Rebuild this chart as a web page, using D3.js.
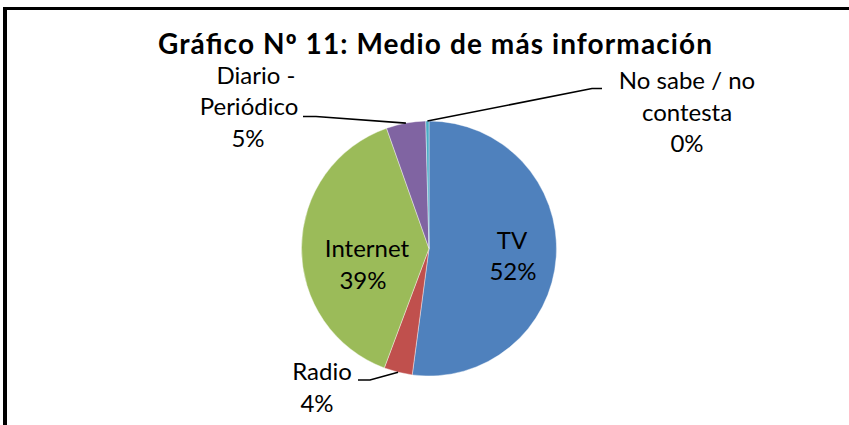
<!DOCTYPE html>
<html>
<head>
<meta charset="utf-8">
<script src="https://cdn.jsdelivr.net/npm/d3@7"></script>
<style>
  html, body { margin: 0; padding: 0; background: #fff; }
  svg text { font-family: Lato, "Open Sans", sans-serif; fill: #000; }
  .title { font-weight: bold; font-size: 28px; }
  .ord { font-family: "Open Sans", sans-serif; }
  .lbl { font-size: 24px; }
  .leader { fill: none; stroke: #000; stroke-width: 1.6; }
</style>
</head>
<body>
<div id="chart"></div>
<script>
'use strict';

// ─── Datos ────────────────────────────────────────────────────────────
const categories = ['TV', 'Radio', 'Internet', 'Diario - Periódico', 'No sabe / no contesta'];
const values     = [52.1, 3.6, 38.9, 5.0, 0.4];
const colors     = ['#4F81BD', '#C0504D', '#9BBB59', '#8064A2', '#4BACC6'];
const labelLines = [['TV'], ['Radio'], ['Internet'], ['Diario -', 'Periódico'], ['No sabe / no', 'contesta']];
const titleParts = ['Gráfico N', 'º', ' 11: Medio de más información'];

// ─── Disposición ──────────────────────────────────────────────────────
const W = 849, H = 425;
const CX = 429, CY = 248.5, R = 127.5;
const LINE_H = 31.5;

// posición de cada etiqueta: x de cada línea, y de la primera línea base
const labelLayout = [
  { xs: [512, 513],           y: 248.5 },
  { xs: [322, 317],           y: 380 },
  { xs: [367, 363],           y: 257 },
  { xs: [256, 249, 248],      y: 83.5 },
  { xs: [687, 687, 687],      y: 89 }
];
// guías (desde el lado de la etiqueta); el último punto sale del arco
const leaderLayout = [
  null,
  [[358, 380], [370, 380]],
  null,
  [[303, 116.5], [316, 116.5]],
  [[602, 88.5], [592, 88.5]]
];

const svg = d3.select('#chart').append('svg')
  .attr('width', W).attr('height', H);

// marco (sólo bordes superior e izquierdo visibles)
svg.append('line').attr('x1', 3).attr('y1', 8.5).attr('x2', W).attr('y2', 8.5)
  .attr('stroke', '#000').attr('stroke-width', 3);
svg.append('line').attr('x1', 5).attr('y1', 7).attr('x2', 5).attr('y2', H)
  .attr('stroke', '#000').attr('stroke-width', 4);

const title = svg.append('text').attr('class', 'title')
  .attr('x', 158).attr('y', 54)
  .attr('textLength', 554).attr('lengthAdjust', 'spacing');
titleParts.forEach((s, i) => {
  title.append('tspan').attr('class', i === 1 ? 'ord' : null).text(s);
});

const pie = d3.pie().sort(null).value(d => d)(values);
const arc = d3.arc().innerRadius(0).outerRadius(R);
const g = svg.append('g').attr('transform', `translate(${CX},${CY})`);

g.selectAll('path.slice').data(pie).join('path')
  .attr('class', 'slice')
  .attr('d', arc)
  .attr('fill', (d, i) => colors[i])
  .attr('stroke', '#fff').attr('stroke-width', 0.4);

// guías
const mid = d => (d.startAngle + d.endAngle) / 2;
pie.forEach((d, i) => {
  const pts = leaderLayout[i];
  if (!pts) return;
  const a = mid(d);
  const end = [CX + R * Math.sin(a), CY - R * Math.cos(a)];
  svg.append('path').attr('class', 'leader')
    .attr('d', d3.line()([...pts, end]));
});

// etiquetas
pie.forEach((d, i) => {
  const lines = [...labelLines[i], Math.round(values[i]) + '%'];
  const lay = labelLayout[i];
  const t = svg.append('text').attr('class', 'lbl').attr('text-anchor', 'middle');
  lines.forEach((s, k) => {
    t.append('tspan').attr('x', lay.xs[k]).attr('y', lay.y + k * LINE_H).text(s);
  });
});
</script>
</body>
</html>
